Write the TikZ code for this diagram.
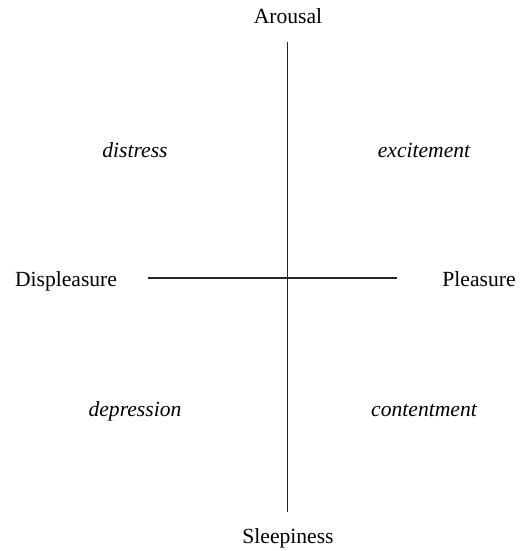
\documentclass[tikz,border=0pt]{standalone}
\usepackage{fontspec}
\setmainfont{Liberation Serif}
\usetikzlibrary{positioning}

\begin{document}
\begin{tikzpicture}[
  x=0.5pt, y=-0.5pt,
  font=\fontsize{10.8}{13}\selectfont,
  pole/.style={inner sep=0pt, anchor=base},
  quad/.style={inner sep=0pt, anchor=base, font=\fontsize{10.8}{13}\selectfont\itshape},
  axis/.style={line width=0.6pt, color=black!85},
]
\useasboundingbox (0,0) rectangle (522,551);

\node[pole] (arousal)  at (288,24)  {Arousal};
\node[pole] (sleep)    at (288,543) {Sleepiness};
\node[pole] (displeas) at (66,286)  {Displeasure};
\node[pole] (pleas)    at (479,286) {Pleasure};

\node[quad] (distress) at (135,157) {distress};
\node[quad] (excite)   at (424,157) {excitement};
\node[quad] (depress)  at (135,416) {depression};
\node[quad] (content)  at (424,416) {contentment};

\coordinate (vtop) at (287.5,42);
\coordinate (vbot) at (287.5,512);
\coordinate (hl)   at (148,278);
\coordinate (hr)   at (397,278);

\draw[axis] (vtop) -- (vbot);
\draw[axis] (hl) -- (hr);
\end{tikzpicture}
\end{document}
